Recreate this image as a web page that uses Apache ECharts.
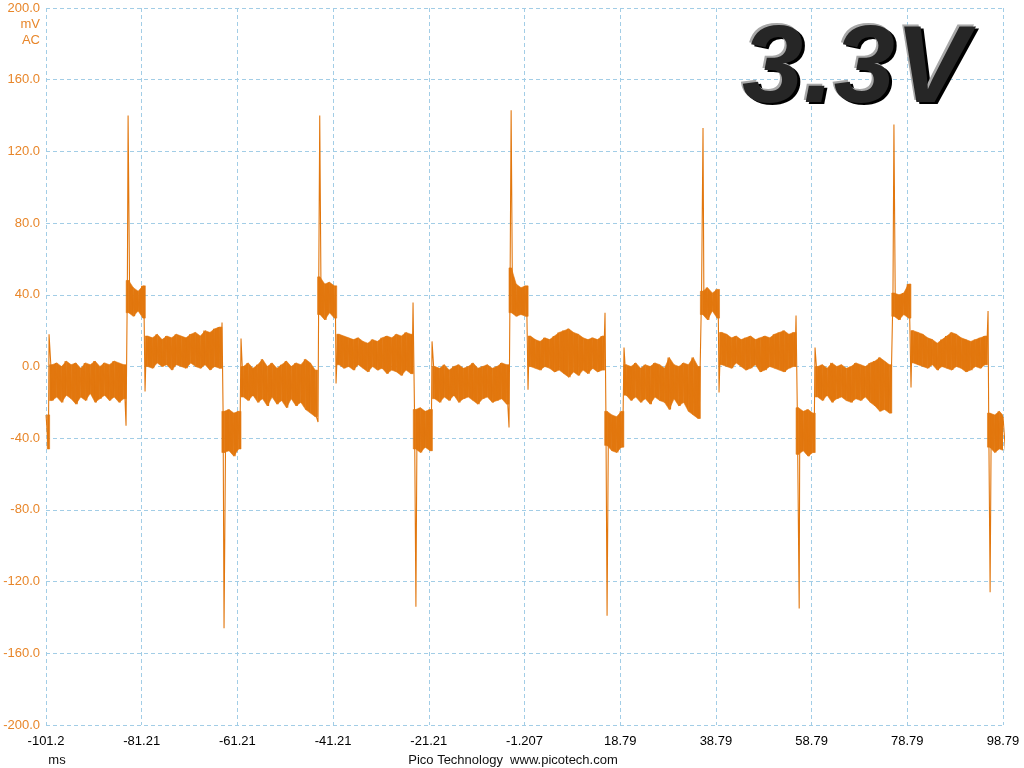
<!DOCTYPE html>
<html>
<head>
<meta charset="utf-8">
<script src="https://cdn.jsdelivr.net/npm/echarts@6/dist/echarts.min.js"></script>
<style>
html,body{margin:0;padding:0;background:#fff;}
#chart{width:1024px;height:768px;}
</style>
</head>
<body>
<div id="chart"></div>
<script>
// ---- axis definitions ----
const xStart = -101.207;          // ms, left edge of capture
const xTickLabels = ['-101.2','-81.21','-61.21','-41.21','-21.21','-1.207','18.79','38.79','58.79','78.79','98.79'];
const yMin = -200, yMax = 200, yStep = 40;

// ---- decimated trace: one sample per ms, upper/lower envelope (mV) ----
const sampleT0 = -101.2;  // time of first sample (ms), samples 1 ms apart
const upper = [
  -27,
  1, 2, 0, 3, 1, 2, -1, 2, 1, 3, 0, 2, 1, 3, 2, 1,
  48, 44, 42, 45,
  17, 16, 18, 15, 17, 16, 18, 17, 16, 18, 19, 17, 20, 19, 21, 22,
  -25, -24, -26, -25,
  0, 2, -1, 1, 4, 0, 2, -1, 1, 3, 0, 2, 1, 4, 2, -2,
  50, 46, 47, 45,
  18, 17, 16, 15, 16, 14, 13, 15, 14, 16, 17, 16, 18, 17, 19, 18,
  -24, -23, -25, -24,
  0, -1, 1, -2, 0, 1, -1, 0, 2, -1, 0, 1, -1, 0, 2, 1,
  55, 46, 44, 45,
  17, 15, 14, 16, 15, 17, 19, 20, 21, 19, 18, 16, 15, 16, 15, 17,
  -25, -27, -28, -25,
  1, 0, 2, -1, 1, 0, 2, 1, -1, 5, 1, 0, 2, 1, 5, 0,
  42, 44, 41, 43,
  19, 18, 16, 17, 15, 16, 17, 15, 16, 17, 16, 18, 19, 20, 18, 19,
  -23, -25, -24, -26,
  0, 1, -1, 2, 0, 1, -1, 0, 2, 1, 0, 2, 3, 5, 3, 1,
  41, 40, 41, 46,
  20, 19, 18, 16, 15, 13, 15, 17, 19, 18, 16, 15, 14, 15, 16, 17,
  -26, -27, -25, -28
];
const lower = [
  -46,
  -19, -17, -20, -16, -18, -21, -17, -19, -15, -20, -18, -16, -19, -17, -20, -18,
  30, 28, 31, 27,
  0, -1, 2, 0, 1, -2, 1, 0, -1, 2, 0, -1, 1, -2, 0, -1,
  -48, -47, -50, -46,
  -17, -19, -16, -20, -18, -22, -17, -21, -19, -23, -18, -22, -20, -24, -26, -28,
  29, 26, 30, 27,
  1, -1, 0, -2, 1, -1, -3, 0, -2, -1, -4, -2, -3, -5, -2, -4,
  -46, -48, -45, -47,
  -18, -20, -17, -19, -16, -20, -18, -17, -19, -21, -18, -17, -20, -19, -18, -21,
  30, 28, 29, 28,
  0, -1, -2, 0, -1, -3, -2, -4, -6, -3, -5, -2, -4, -1, -3, -2,
  -44, -47, -48, -45,
  -16, -19, -17, -20, -18, -21, -17, -19, -20, -24, -18, -22, -20, -25, -27, -29,
  29, 26, 31, 27,
  1, 0, -1, 2, 0, -2, -1, 1, -3, -2, 0, -1, -2, -3, -1, 0,
  -49, -47, -50, -48,
  -17, -19, -16, -20, -18, -17, -19, -20, -18, -19, -17, -20, -22, -25, -24, -26,
  28, 26, 29, 27,
  2, 1, 0, -1, 1, -2, 0, -1, -2, 0, -1, -3, -2, 0, -1, 1,
  -45, -48, -46, -47
];

// ---- switching spikes ----
const spikeT = [-84.05, -64.0, -44.0, -23.9, -4.0, 16.05, 36.1, 56.2, 76.0, 96.1];
const spikeV = [140, -146, 140, -134, 143, -139, 133, -135, 135, -126];

// ---- small transients at level changes ----
const glitchT = [-100.57, -84.48, -80.51, -64.42, -60.45, -44.36, -40.59, -24.5, -20.53, -4.44, -0.47, 15.62, 19.59, 35.65, 39.45, 55.54, 59.51, 75.7, 79.57, 95.67];
const glitchV = [18, -33, -14, 24.5, 15.6, -31, -9.5, 35.7, 14, -34, -13, 30, 10.6, -28.5, -14.5, 28.5, 10.6, -26, -11.7, 31];

// ---- build the series ----
const pts = [];
const band = [];   // [x_i, hi_i, lo_i, x_{i+1}, hi_{i+1}, lo_{i+1}]
for (let i = 0; i < upper.length; i++) {
  const t = sampleT0 + i;
  pts.push([t - xStart, upper[i]]);
  pts.push([t + 0.5 - xStart, lower[i]]);
  if (i + 1 < upper.length) {
    band.push([t + 0.25 - xStart, upper[i], lower[i], t + 1.25 - xStart, upper[i + 1], lower[i + 1]]);
  }
}
spikeT.forEach((t, k) => pts.push([t - xStart, spikeV[k]]));
glitchT.forEach((t, k) => pts.push([t - xStart, glitchV[k]]));
pts.sort((a, b) => a[0] - b[0]);

const orange = '#e2770e';
const labelOrange = '#e8862a';
const gridBlue = '#a2cde6';
const font = 'Liberation Sans, Arial, sans-serif';

function renderBand(params, api) {
  const x0 = api.value(0), h0 = api.value(1), l0 = api.value(2);
  const x1 = api.value(3), h1 = api.value(4), l1 = api.value(5);
  const style = { fill: orange, stroke: orange, lineWidth: 0.6 };
  const jump = Math.abs((h1 + l1) / 2 - (h0 + l0) / 2) > 12;
  if (!jump) {
    return { type: 'polygon', shape: { points: [api.coord([x0, h0]), api.coord([x1, h1]), api.coord([x1, l1]), api.coord([x0, l0])] }, style };
  }
  // level change: hold each level to the middle so the step is vertical
  const xm = (x0 + x1) / 2;
  return { type: 'group', children: [
    { type: 'polygon', shape: { points: [api.coord([x0, h0]), api.coord([xm, h0]), api.coord([xm, l0]), api.coord([x0, l0])] }, style },
    { type: 'polygon', shape: { points: [api.coord([xm, h1]), api.coord([x1, h1]), api.coord([x1, l1]), api.coord([xm, l1])] }, style }
  ] };
}

const chart = echarts.init(document.getElementById('chart'));
chart.setOption({
  animation: false,
  backgroundColor: '#ffffff',
  grid: { left: 46, right: 21, top: 8, bottom: 43, containLabel: false },
  xAxis: {
    type: 'value', min: 0, max: 200, interval: 20,
    axisLine: { show: false }, axisTick: { show: false },
    splitLine: { show: true, showMinLine: true, showMaxLine: true, lineStyle: { color: gridBlue, type: [4, 3], width: 1 } },
    axisLabel: { color: '#000', fontSize: 13, fontFamily: font, margin: 10,
      formatter: v => xTickLabels[Math.round(v / 20)] }
  },
  yAxis: {
    type: 'value', min: yMin, max: yMax, interval: yStep,
    axisLine: { show: false }, axisTick: { show: false },
    splitLine: { show: true, showMinLine: true, showMaxLine: true, lineStyle: { color: gridBlue, type: [4, 3], width: 1 } },
    axisLabel: { color: labelOrange, fontSize: 13, fontFamily: font, margin: 6,
      formatter: v => v.toFixed(1) }
  },
  series: [
    { type: 'custom', data: band, renderItem: renderBand, clip: true, silent: true,
      encode: { x: [0, 3], y: [1, 2, 4, 5] } },
    { type: 'line', data: pts, symbol: 'none', sampling: 'none',
      lineStyle: { color: orange, width: 1.1 }, clip: true }
  ],
  graphic: [
    { type: 'text', x: 40, y: 24, style: { text: 'mV', fill: labelOrange, font: '13px ' + font, textAlign: 'right', textVerticalAlign: 'middle' } },
    { type: 'text', x: 40, y: 40, style: { text: 'AC', fill: labelOrange, font: '13px ' + font, textAlign: 'right', textVerticalAlign: 'middle' } },
    { type: 'text', x: 57, y: 760, style: { text: 'ms', fill: '#111', font: '13px ' + font, textAlign: 'center', textVerticalAlign: 'middle' } },
    { type: 'text', x: 513, y: 760, style: { text: 'Pico Technology  www.picotech.com', fill: '#111', font: '13px ' + font, textAlign: 'center', textVerticalAlign: 'middle' } },
    // "3.3V" embossed title: shadow, highlight, body
    { type: 'text', x: 745, y: 74, z: 100, style: { text: '3.3V', font: 'italic bold 110px ' + font, textAlign: 'left', textVerticalAlign: 'middle',
        fill: '#000', shadowColor: 'rgba(0,0,0,0.5)', shadowBlur: 4 } },
    { type: 'text', x: 740, y: 70, z: 101, style: { text: '3.3V', font: 'italic bold 110px ' + font, textAlign: 'left', textVerticalAlign: 'middle',
        fill: '#a8a8a8' } },
    { type: 'text', x: 742, y: 72, z: 102, style: { text: '3.3V', font: 'italic bold 110px ' + font, textAlign: 'left', textVerticalAlign: 'middle',
        fill: '#262626' } }
  ]
});
</script>
</body>
</html>
